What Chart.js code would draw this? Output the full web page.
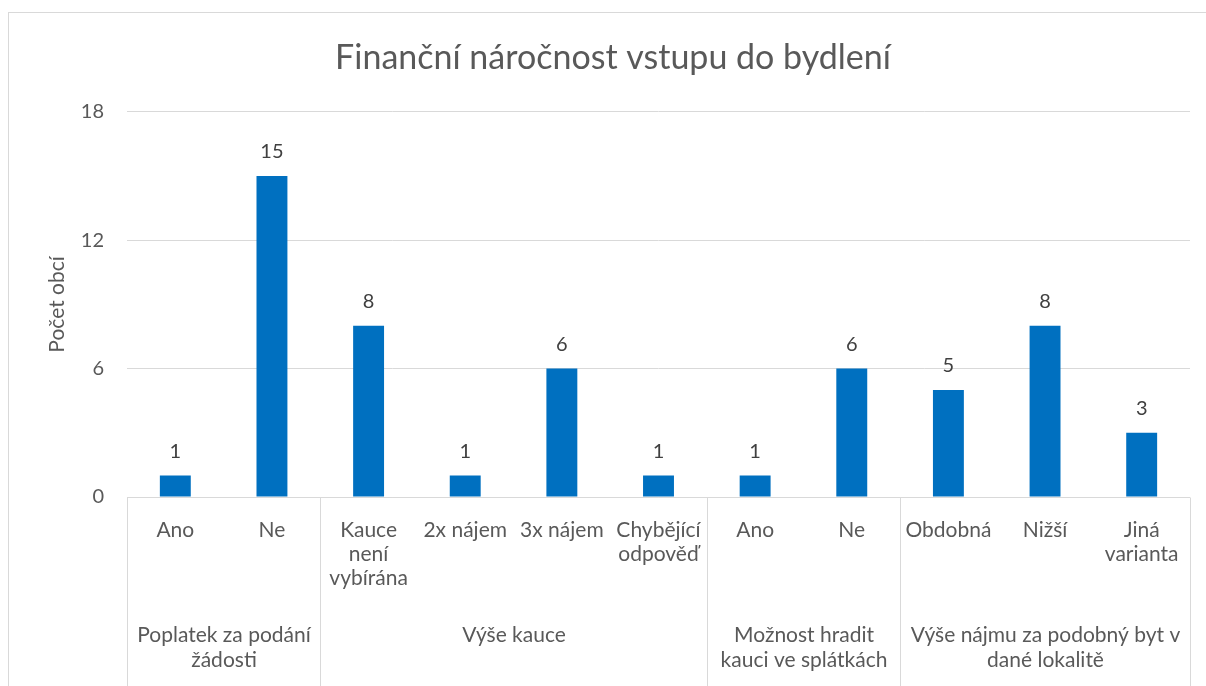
<!doctype html>
<html lang="cs">
<head>
  <meta charset="utf-8">
  <title>Finanční náročnost vstupu do bydlení</title>
  <style>
    * { margin: 0; padding: 0; }
    body { background: #fff; width: 1206px; height: 686px; overflow: hidden; }
    .chartBox { width: 1206px; height: 686px; }
  </style>
</head>
<body>
<div class="chartBox">
  <canvas id="myChart"></canvas>
</div>
<script src="https://cdn.jsdelivr.net/npm/chart.js"></script>
<script>
  // data
  const categoryLabels = [
    ['Ano'], ['Ne'],
    ['Kauce', 'není', 'vybírána'], ['2x nájem'], ['3x nájem'], ['Chybějící', 'odpověď'],
    ['Ano'], ['Ne'],
    ['Obdobná'], ['Nižší'], ['Jiná', 'varianta']
  ];
  const values = [1, 15, 8, 1, 6, 1, 1, 6, 5, 8, 3];
  const groupLabels = [
    ['Poplatek za podání', 'žádosti'],
    ['Výše kauce'],
    ['Možnost hradit', 'kauci ve splátkách'],
    ['Výše nájmu za podobný byt v', 'dané lokalitě']
  ];
  const groupSizes = [2, 4, 2, 3];
  const yTicks = [0, 6, 12, 18];

  const FONT = 'Lato, "Noto Sans", sans-serif';
  const gridColor = '#d9d9d9';
  const textColor = '#595959';

  // frame, value labels, group labels and separators
  const excelPlugin = {
    id: 'excelPlugin',
    beforeDraw(chart) {
      const ctx = chart.ctx;
      ctx.save();
      ctx.strokeStyle = gridColor;
      ctx.lineWidth = 1;
      ctx.strokeRect(8.5, 12.5, 1220, 700);
      ctx.restore();
    },
    afterDraw(chart) {
      const ctx = chart.ctx;
      const x = chart.scales.x;
      const y = chart.scales.y;
      const area = chart.chartArea;
      const meta = chart.getDatasetMeta(0);

      ctx.save();
      // value labels
      ctx.font = '20px ' + FONT;
      ctx.fillStyle = '#404040';
      ctx.textAlign = 'center';
      ctx.textBaseline = 'middle';
      meta.data.forEach((bar, i) => {
        ctx.fillText(String(values[i]), bar.x, bar.y - 24);
      });

      // axis line and group separators
      ctx.strokeStyle = gridColor;
      ctx.lineWidth = 1;
      const y0 = Math.round(y.getPixelForValue(0)) + 0.5;
      ctx.beginPath();
      ctx.moveTo(area.left, y0);
      ctx.lineTo(area.right, y0);
      ctx.stroke();

      const half = (x.getPixelForValue(1) - x.getPixelForValue(0)) / 2;
      let start = 0;
      const bounds = [Math.round(x.getPixelForValue(0) - half) + 0.5];
      groupSizes.forEach(n => {
        start += n;
        bounds.push(Math.round(x.getPixelForValue(start - 1) + half) + 0.5);
      });
      bounds.forEach(bx => {
        ctx.beginPath();
        ctx.moveTo(bx, y0);
        ctx.lineTo(bx, chart.height);
        ctx.stroke();
      });

      // group labels
      ctx.font = '21px ' + FONT;
      ctx.fillStyle = textColor;
      groupLabels.forEach((lines, g) => {
        const cx = (bounds[g] + bounds[g + 1]) / 2;
        lines.forEach((line, k) => {
          ctx.fillText(line, cx, 635 + k * 25);
        });
      });
      ctx.restore();
    }
  };

  const data = {
    labels: categoryLabels,
    datasets: [{
      label: 'Počet obcí',
      data: values,
      backgroundColor: '#0070C0',
      borderWidth: 0,
      barPercentage: 0.32,
      categoryPercentage: 1
    }]
  };

  const config = {
    type: 'bar',
    data,
    plugins: [excelPlugin],
    options: {
      responsive: false,
      animation: false,
      layout: { padding: { top: 12, right: 16, left: 36, bottom: 0 } },
      plugins: {
        legend: { display: false },
        tooltip: { enabled: false },
        title: {
          display: true,
          text: 'Finanční náročnost vstupu do bydlení',
          color: textColor,
          font: { family: FONT, size: 34, weight: 'normal' },
          padding: { top: 26, bottom: 33 }
        }
      },
      scales: {
        x: {
          grid: { display: false, drawTicks: false },
          border: { display: false },
          ticks: {
            color: textColor,
            font: { family: FONT, size: 21, lineHeight: '24px' },
            padding: 21,
            maxRotation: 0,
            autoSkip: false
          },
          afterFit(scale) { scale.height = 189; }
        },
        y: {
          min: 0,
          max: 18,
          afterBuildTicks(scale) { scale.ticks = yTicks.map(v => ({ value: v })); },
          grid: { color: gridColor, drawTicks: false },
          border: { display: false },
          ticks: {
            color: textColor,
            font: { family: FONT, size: 20 },
            padding: 23
          },
          title: {
            display: true,
            text: 'Počet obcí',
            color: textColor,
            font: { family: FONT, size: 21 },
            padding: { top: 9, bottom: 0 }
          },
          afterFit(scale) { scale.width = 91; }
        }
      }
    }
  };

  const canvas = document.getElementById('myChart');
  canvas.width = 1206;
  canvas.height = 686;
  const myChart = new Chart(canvas, config);
</script>
</body>
</html>
